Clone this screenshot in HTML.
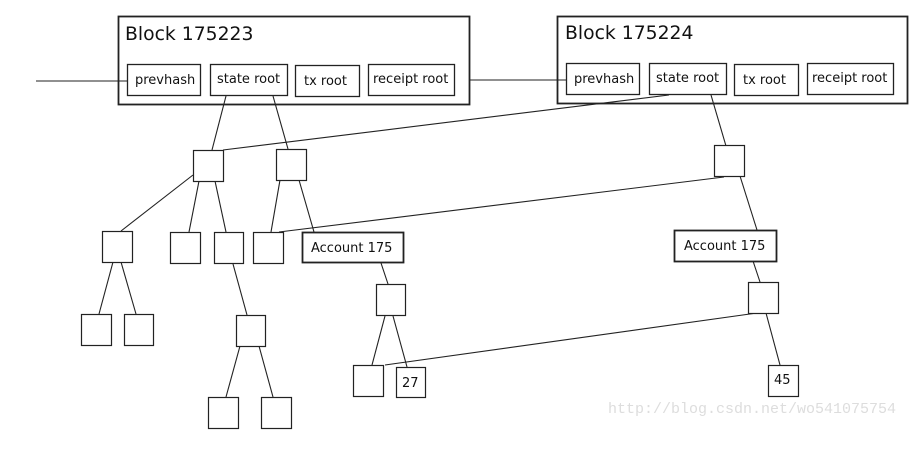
<!DOCTYPE html>
<html><head><meta charset="utf-8"><style>
html,body{margin:0;padding:0;background:#fff;}
svg{display:block;}
text{font-family:"DejaVu Sans","Liberation Sans",sans-serif;fill:#111;}
</style></head><body>
<svg width="921" height="455" viewBox="0 0 921 455" xmlns="http://www.w3.org/2000/svg">
<g fill="#fff" stroke="#222" stroke-width="1.3">
<rect x="118.5" y="16.5" width="351" height="88" stroke-width="1.8"/>
<rect x="127.5" y="64.5" width="73" height="31"/>
<rect x="210.5" y="64.5" width="77" height="31"/>
<rect x="295.5" y="65.5" width="64" height="31"/>
<rect x="368.5" y="64.5" width="86" height="31"/>
<rect x="557.5" y="16.5" width="350" height="87" stroke-width="1.8"/>
<rect x="566.5" y="63.5" width="73" height="31"/>
<rect x="649.5" y="63.5" width="77" height="31"/>
<rect x="734.5" y="64.5" width="64" height="31"/>
<rect x="807.5" y="63.5" width="86" height="31"/>
</g>
<g stroke="#222" stroke-width="1.1" fill="none">
<line x1="36" y1="81" x2="127" y2="81"/>
<line x1="470" y1="80" x2="566" y2="80"/>
<line x1="226" y1="96" x2="212" y2="150"/>
<line x1="273" y1="96" x2="288" y2="149"/>
<line x1="223" y1="150" x2="669" y2="95"/>
<line x1="711" y1="95" x2="726" y2="146"/>
<line x1="279" y1="232" x2="724" y2="177"/>
<line x1="193" y1="175" x2="121" y2="231"/>
<line x1="199" y1="181" x2="189" y2="232"/>
<line x1="215" y1="181" x2="226" y2="232"/>
<line x1="280" y1="180" x2="271" y2="232"/>
<line x1="299" y1="180" x2="314" y2="232"/>
<line x1="113" y1="262" x2="99" y2="314"/>
<line x1="121" y1="262" x2="136" y2="314"/>
<line x1="233" y1="264" x2="247" y2="315"/>
<line x1="381" y1="263" x2="388" y2="284"/>
<line x1="240" y1="346" x2="226" y2="397"/>
<line x1="259" y1="346" x2="273" y2="397"/>
<line x1="385" y1="316" x2="372" y2="365"/>
<line x1="393" y1="316" x2="407" y2="367"/>
<line x1="385" y1="365" x2="757" y2="313"/>
<line x1="740" y1="176" x2="757" y2="230"/>
<line x1="753" y1="261" x2="760" y2="282"/>
<line x1="766" y1="313" x2="780" y2="365"/>
</g>
<g fill="#fff" stroke="#222" stroke-width="1.2">
<rect x="193.5" y="150.5" width="30" height="31"/>
<rect x="276.5" y="149.5" width="30" height="31"/>
<rect x="714.5" y="145.5" width="30" height="31"/>
<rect x="102.5" y="231.5" width="30" height="31"/>
<rect x="170.5" y="232.5" width="30" height="31"/>
<rect x="214.5" y="232.5" width="29" height="31"/>
<rect x="253.5" y="232.5" width="30" height="31"/>
<rect x="302.5" y="232.5" width="101" height="30" stroke-width="1.8"/>
<rect x="81.5" y="314.5" width="30" height="31"/>
<rect x="124.5" y="314.5" width="29" height="31"/>
<rect x="236.5" y="315.5" width="29" height="31"/>
<rect x="376.5" y="284.5" width="29" height="31"/>
<rect x="208.5" y="397.5" width="30" height="31"/>
<rect x="261.5" y="397.5" width="30" height="31"/>
<rect x="353.5" y="365.5" width="30" height="31"/>
<rect x="396.5" y="367.5" width="29" height="30"/>
<rect x="674.5" y="230.5" width="102" height="31" stroke-width="1.8"/>
<rect x="748.5" y="282.5" width="30" height="31"/>
<rect x="768.5" y="365.5" width="30" height="31"/>
</g>
<text x="125" y="40" font-size="18.8">Block 175223</text>
<text x="565" y="39" font-size="18.8">Block 175224</text>
<g font-size="13">
<text x="135" y="84">prevhash</text>
<text x="217" y="83">state root</text>
<text x="304" y="85">tx root</text>
<text x="373" y="83">receipt root</text>
<text x="574" y="83">prevhash</text>
<text x="656" y="82">state root</text>
<text x="743" y="84">tx root</text>
<text x="812" y="82">receipt root</text>
<text x="311" y="252">Account 175</text>
<text x="684" y="250">Account 175</text>
<text x="402" y="387">27</text>
<text x="774" y="384">45</text>
</g>
<text x="608" y="413" font-size="15" style="font-family:'Liberation Mono',monospace;fill:#ddd">http://blog.csdn.net/wo541075754</text>
</svg>
</body></html>
